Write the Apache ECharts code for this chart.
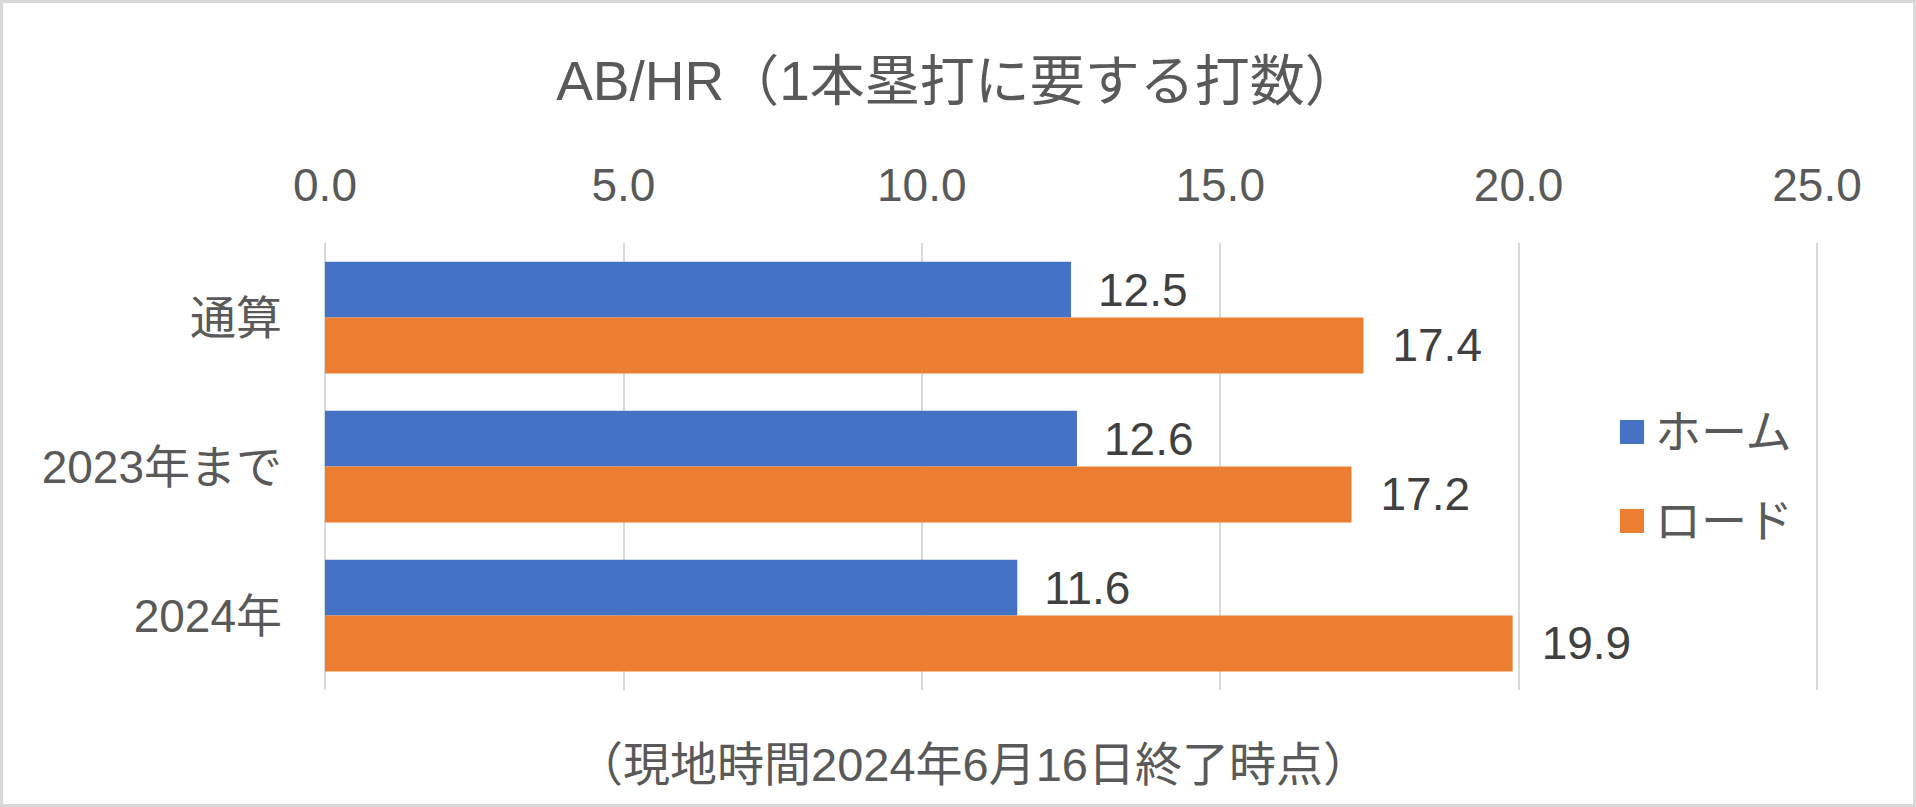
<!DOCTYPE html>
<html>
<head>
<meta charset="utf-8">
<script src="https://cdn.jsdelivr.net/npm/echarts@6/dist/echarts.min.js"></script>
<style>
html,body{margin:0;padding:0;background:#fff;}
#c{width:1916px;height:807px;}
</style>
</head>
<body>
<div id="c"></div>
<script>
const categories = ['通算', '2023年まで', '2024年'];
const homeValues = [12.5, 12.6, 11.6];
const roadValues = [17.4, 17.2, 19.9];
const seriesNames = ['ホーム', 'ロード'];
const titleText = 'AB/HR（1本塁打に要する打数）';
const noteText = '（現地時間2024年6月16日終了時点）';

const FONT = "'Liberation Sans', Arial, 'Noto Sans CJK JP', sans-serif";
const chart = echarts.init(document.getElementById('c'), null, {renderer: 'svg'});
chart.setOption({
  animation: false,
  backgroundColor: '#fff',
  textStyle: {fontFamily: FONT},
  title: [
    {text: titleText, left: 'center', top: 48,
     textStyle: {fontFamily: FONT, fontSize: 55, fontWeight: 'normal', color: '#595959'}},
    {text: noteText, left: 968, textAlign: 'center', top: 736,
     textStyle: {fontFamily: FONT, fontSize: 47, fontWeight: 'normal', color: '#595959'}}
  ],
  graphic: [{
    type: 'rect', silent: true,
    shape: {x: 1.5, y: 1.5, width: 1913, height: 804},
    style: {fill: 'none', stroke: '#d9d9d9', lineWidth: 3}
  }],
  legend: {
    orient: 'vertical', left: 1615, top: 404,
    itemWidth: 24, itemHeight: 24, itemGap: 43, icon: 'rect',
    textStyle: {fontFamily: FONT, fontSize: 46, color: '#595959', padding: [0, 0, 0, 6]},
    data: seriesNames
  },
  grid: {left: 325, right: 99, top: 243, bottom: 117, containLabel: false},
  xAxis: {
    type: 'value', position: 'top', min: 0, max: 25, interval: 5,
    axisLine: {show: false}, axisTick: {show: false},
    splitLine: {lineStyle: {color: '#d9d9d9', width: 2}},
    axisLabel: {fontFamily: FONT, fontSize: 46, color: '#595959', margin: 35,
      formatter: v => v.toFixed(1)}
  },
  yAxis: {
    type: 'category', inverse: true, data: categories,
    axisLine: {show: false}, axisTick: {show: false},
    axisLabel: {fontFamily: FONT, fontSize: 46, color: '#595959', margin: 43}
  },
  series: [
    {name: seriesNames[0], type: 'bar', data: homeValues, barGap: 0, barCategoryGap: '25%',
     itemStyle: {color: '#4472C4'},
     label: {show: true, position: 'right', distance: 27, fontFamily: FONT, fontSize: 46, color: '#404040',
       formatter: p => p.value.toFixed(1)}},
    {name: seriesNames[1], type: 'bar', data: roadValues, barGap: 0, barCategoryGap: '25%',
     itemStyle: {color: '#ED7D31'},
     label: {show: true, position: 'right', distance: 29, fontFamily: FONT, fontSize: 46, color: '#404040',
       formatter: p => p.value.toFixed(1)}}
  ]
});
</script>
</body>
</html>
